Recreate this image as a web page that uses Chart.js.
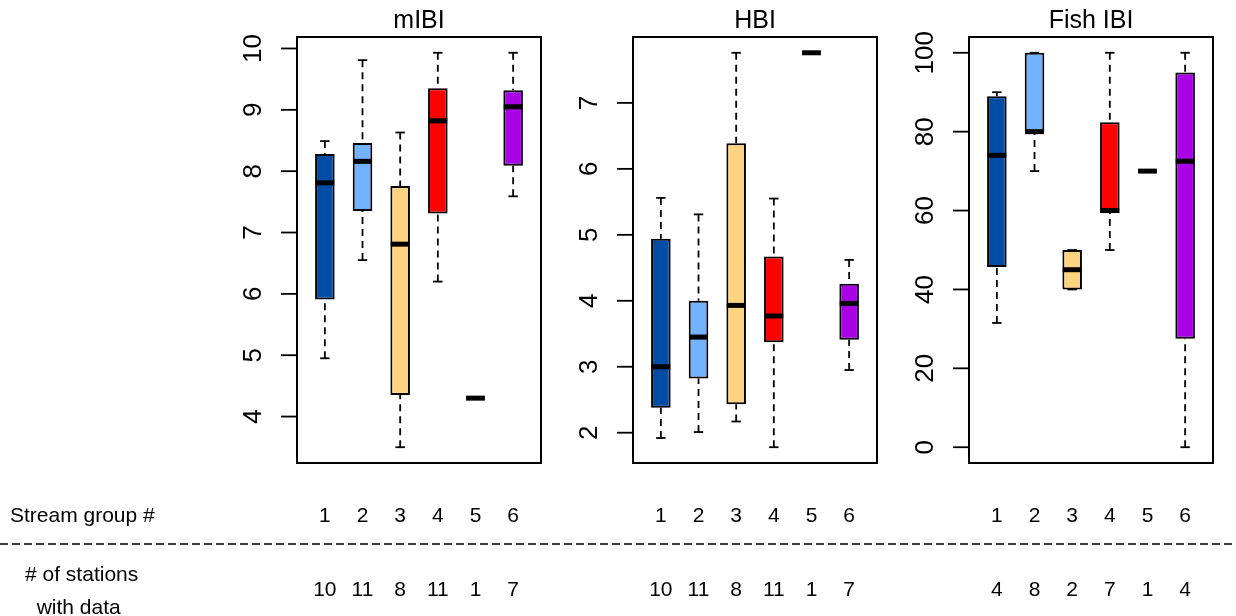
<!DOCTYPE html>
<html>
<head>
<meta charset="utf-8">
<script src="https://cdn.jsdelivr.net/npm/chart.js@4/dist/chart.umd.min.js"></script>
<style>
  html, body { margin: 0; padding: 0; background: #ffffff; }
  #wrap { position: relative; width: 1236px; height: 616px; overflow: hidden; background: #ffffff; }
  #wrap canvas { position: absolute; top: 0; }
</style>
</head>
<body>
<div id="wrap">
  <canvas id="bg" width="1236" height="616" style="left:0"></canvas>
  <canvas id="p0" width="336" height="616"></canvas>
  <canvas id="p1" width="336" height="616"></canvas>
  <canvas id="p2" width="336" height="616"></canvas>
</div>
<script>
// Stream groups and their fill colours
const groups = [1, 2, 3, 4, 5, 6];
const groupColors = ['#004DA8', '#73B2FF', '#FFD37F', '#FF0000', '#38A800', '#A900E6'];

// mIBI five-number summaries per group
const mibiLow  = [4.95, 6.55, 3.50, 6.20, 4.30, 7.59];
const mibiQ1   = [5.91, 7.35, 4.35, 7.31, 4.30, 8.09];
const mibiMed  = [7.81, 8.16, 6.81, 8.82, 4.30, 9.05];
const mibiQ3   = [8.28, 8.46, 7.76, 9.35, 4.30, 9.32];
const mibiHigh = [8.49, 9.81, 8.63, 9.93, 4.30, 9.93];
const mibiCounts = [10, 11, 8, 11, 1, 7];
const mibiTicks = [4, 5, 6, 7, 8, 9, 10];

// HBI five-number summaries per group
const hbiLow  = [1.92, 2.01, 2.17, 1.78, 7.76, 2.95];
const hbiQ1   = [2.38, 2.82, 2.43, 3.37, 7.76, 3.41];
const hbiMed  = [3.00, 3.45, 3.93, 3.77, 7.76, 3.96];
const hbiQ3   = [4.94, 4.00, 6.39, 4.67, 7.76, 4.26];
const hbiHigh = [5.56, 5.31, 7.76, 5.55, 7.76, 4.62];
const hbiCounts = [10, 11, 8, 11, 1, 7];
const hbiTicks = [2, 3, 4, 5, 6, 7];

// Fish IBI five-number summaries per group
const fishLow  = [31.5, 70, 40, 50, 70, 0];
const fishQ1   = [45.7, 80, 40, 59.4, 70, 27.5];
const fishMed  = [74.0, 80, 45, 60.0, 70, 72.5];
const fishQ3   = [89.0, 100, 50, 82.4, 70, 95];
const fishHigh = [90.0, 100, 50, 100, 70, 100];
const fishCounts = [4, 8, 2, 7, 1, 4];
const fishTicks = [0, 20, 40, 60, 80, 100];

const panelTitles = ['mIBI', 'HBI', 'Fish IBI'];
const rowLabel = 'Stream group #';
const countLabel = ['# of stations', '  with data'];

// Page layout
const FONT = '"Liberation Sans", Arial, Helvetica, sans-serif';
const panelLeft = [297, 633, 969];
const panelWidth = 244;
const panelTop = 37;
const panelBottom = 463;
const canvasPad = 90;
const groupRowY = 522;
const countRowY = 596;
const sepY = 544;

const panels = [
  { title: panelTitles[0], low: mibiLow, q1: mibiQ1, med: mibiMed, q3: mibiQ3, high: mibiHigh, counts: mibiCounts, ticks: mibiTicks },
  { title: panelTitles[1], low: hbiLow, q1: hbiQ1, med: hbiMed, q3: hbiQ3, high: hbiHigh, counts: hbiCounts, ticks: hbiTicks },
  { title: panelTitles[2], low: fishLow, q1: fishQ1, med: fishMed, q3: fishQ3, high: fishHigh, counts: fishCounts, ticks: fishTicks }
];

// Background: separator line and the row captions on the left
(function drawBackground() {
  const ctx = document.getElementById('bg').getContext('2d');
  ctx.fillStyle = '#fff';
  ctx.fillRect(0, 0, 1236, 616);
  ctx.strokeStyle = '#000';
  ctx.lineWidth = 1.5;
  ctx.setLineDash([8, 4]);
  ctx.beginPath();
  ctx.moveTo(0, sepY);
  ctx.lineTo(1236, sepY);
  ctx.stroke();
  ctx.setLineDash([]);
  ctx.fillStyle = '#000';
  ctx.font = '21px ' + FONT;
  ctx.textBaseline = 'alphabetic';
  ctx.textAlign = 'left';
  ctx.fillText(rowLabel, 10, groupRowY);
  ctx.fillText(countLabel[0], 25, 581);
  ctx.fillText(countLabel[1], 25, 614);
})();

// Whiskers, staples, medians, frame, axis and labels for one panel
function boxParts(panel) {
  return {
    id: 'boxParts',
    afterDatasetsDraw(chart) {
      const ctx = chart.ctx;
      const xs = chart.scales.x, ys = chart.scales.y;
      const unit = xs.getPixelForValue(2) - xs.getPixelForValue(1);
      const half = unit * 0.25;
      ctx.save();
      ctx.strokeStyle = '#000';
      groups.forEach((g, i) => {
        const x = xs.getPixelForValue(g);
        ctx.lineWidth = 1.8;
        ctx.lineCap = 'butt';
        ctx.setLineDash([7, 5]);
        [[panel.low[i], panel.q1[i]], [panel.high[i], panel.q3[i]]].forEach(([end, edge]) => {
          if (end === edge) return;
          ctx.beginPath();
          ctx.moveTo(x, ys.getPixelForValue(end));
          ctx.lineTo(x, ys.getPixelForValue(edge));
          ctx.stroke();
        });
        ctx.setLineDash([]);
        [panel.low[i], panel.high[i]].forEach(v => {
          const y = ys.getPixelForValue(v);
          ctx.beginPath();
          ctx.moveTo(x - half / 2, y);
          ctx.lineTo(x + half / 2, y);
          ctx.stroke();
        });
        const ym = ys.getPixelForValue(panel.med[i]);
        ctx.lineWidth = 5;
        ctx.beginPath();
        ctx.moveTo(x - half, ym);
        ctx.lineTo(x + half, ym);
        ctx.stroke();
      });
      ctx.restore();
    },
    afterDraw(chart) {
      const ctx = chart.ctx;
      const a = chart.chartArea;
      const xs = chart.scales.x, ys = chart.scales.y;
      ctx.save();
      ctx.strokeStyle = '#000';
      ctx.fillStyle = '#000';
      // frame
      ctx.lineWidth = 2;
      ctx.strokeRect(a.left, a.top, a.right - a.left, a.bottom - a.top);
      // y axis ticks and rotated labels
      ctx.lineWidth = 1.8;
      ctx.font = '26px ' + FONT;
      panel.ticks.forEach(t => {
        const y = ys.getPixelForValue(t);
        ctx.beginPath();
        ctx.moveTo(a.left - 16, y);
        ctx.lineTo(a.left, y);
        ctx.stroke();
        ctx.save();
        ctx.translate(a.left - 36, y);
        ctx.rotate(-Math.PI / 2);
        ctx.textAlign = 'center';
        ctx.textBaseline = 'alphabetic';
        ctx.fillText(String(t), 0, 0);
        ctx.restore();
      });
      // title
      ctx.font = '25px ' + FONT;
      ctx.textAlign = 'center';
      ctx.textBaseline = 'alphabetic';
      ctx.fillText(panel.title, (a.left + a.right) / 2, 28);
      // group numbers and station counts
      ctx.font = '21px ' + FONT;
      groups.forEach((g, i) => {
        const x = xs.getPixelForValue(g);
        ctx.fillText(String(g), x, groupRowY);
        ctx.fillText(String(panel.counts[i]), x, countRowY);
      });
      ctx.restore();
    }
  };
}

panels.forEach((panel, k) => {
  const canvas = document.getElementById('p' + k);
  canvas.style.left = (panelLeft[k] - canvasPad) + 'px';
  const lo = Math.min(...panel.low), hi = Math.max(...panel.high);
  const pad = (hi - lo) * 0.04;
  new Chart(canvas, {
    type: 'bar',
    data: {
      datasets: [{
        data: groups.map((g, i) => ({ x: g, y: [panel.q1[i], panel.q3[i]] })),
        backgroundColor: groupColors,
        borderColor: '#000',
        borderWidth: 2,
        borderSkipped: false,
        barPercentage: 0.52,
        categoryPercentage: 1.0
      }]
    },
    options: {
      responsive: false,
      animation: false,
      events: [],
      layout: {
        padding: {
          left: canvasPad,
          right: canvas.width - canvasPad - panelWidth,
          top: panelTop,
          bottom: canvas.height - panelBottom
        }
      },
      scales: {
        x: {
          type: 'linear',
          display: false,
          offset: false,
          min: 0.26,
          max: 6.74,
          afterBuildTicks: s => { s.ticks = groups.map(v => ({ value: v })); }
        },
        y: {
          type: 'linear',
          display: false,
          min: lo - pad,
          max: hi + pad
        }
      },
      plugins: {
        legend: { display: false },
        tooltip: { enabled: false }
      }
    },
    plugins: [boxParts(panel)]
  });
});
</script>
</body>
</html>
